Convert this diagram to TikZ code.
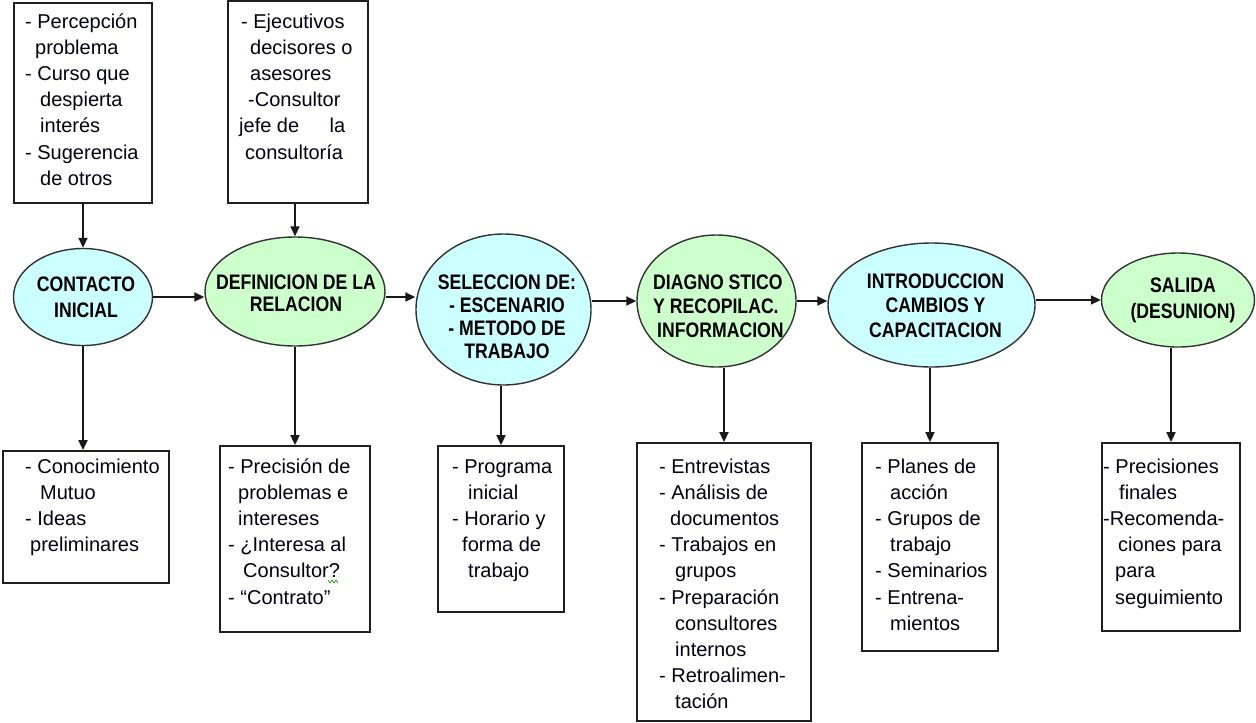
\documentclass[tikz,border=0pt]{standalone}
\usepackage{fontspec}
\setmainfont{Liberation Sans}
\newfontfamily\ellfont[FakeStretch=0.84]{Liberation Sans}
\usetikzlibrary{shapes.geometric,arrows.meta}
\newcommand\ind[1]{\hspace*{#1pt}}
\newcommand\bxt[1]{\parbox[t]{170pt}{\fontsize{20}{26.2}\selectfont #1}}
\newcommand\elt[2]{\parbox[t]{170pt}{\centering\ellfont\bfseries\fontsize{21}{#1}\selectfont #2}}
\newcommand\eltl[2]{\parbox[t]{170pt}{\ellfont\bfseries\fontsize{21}{#1}\selectfont #2}}
\tikzset{
  x=1pt,y=-1pt,
  panel/.style={draw=black!88,line width=1.8pt,rectangle,inner sep=0pt},
  cyanell/.style={ellipse,draw=black!80,line width=1.4pt,fill=cyanfill,inner sep=0pt},
  greenell/.style={ellipse,draw=black!80,line width=1.4pt,fill=greenfill,inner sep=0pt},
  txt/.style={inner sep=0pt,anchor=base west,text=black!92!blue},
  etxt/.style={inner sep=0pt,anchor=base,text=black},
  arr/.style={-{Triangle[length=10pt,width=9pt]},line width=1.8pt,draw=black!90},
}
\definecolor{cyanfill}{HTML}{CCFFFF}
\definecolor{greenfill}{HTML}{CCFFCC}
\begin{document}
\begin{tikzpicture}
\useasboundingbox[fill=white] (0,0) rectangle (1256,723);

% top boxes
\node[panel,minimum width=138pt,minimum height=200pt] (t1) at (83,103) {};
\node[panel,minimum width=140pt,minimum height=202pt] (t2) at (298,102) {};

% ellipses
\node[cyanell,minimum width=139pt,minimum height=97pt] (e1) at (83,297) {};
\node[greenell,minimum width=180pt,minimum height=109pt] (e2) at (295,291.5) {};
\node[cyanell,minimum width=175pt,minimum height=151pt] (e3) at (503.5,309.5) {};
\node[greenell,minimum width=159pt,minimum height=132pt] (e4) at (716.5,301) {};
\node[cyanell,minimum width=207pt,minimum height=124pt] (e5) at (931.5,305) {};
\node[greenell,minimum width=153pt,minimum height=94pt] (e6) at (1178,300) {};

% bottom boxes
\node[panel,minimum width=166pt,minimum height=132pt] (b1) at (86,517) {};
\node[panel,minimum width=150pt,minimum height=186pt] (b2) at (295,539) {};
\node[panel,minimum width=126pt,minimum height=166pt] (b3) at (501,529) {};
\node[panel,minimum width=174pt,minimum height=278pt] (b4) at (724,582) {};
\node[panel,minimum width=136pt,minimum height=208pt] (b5) at (930,547) {};
\node[panel,minimum width=138pt,minimum height=188pt] (b6) at (1171,537) {};

% texts of top boxes
\node[txt] (t1x) at (25,28) {\bxt{- Percepción\\
\ind{10}problema\\
- Curso que\\
\ind{15}despierta\\
\ind{15}interés\\
- Sugerencia\\
\ind{15}de otros}};
\node[txt] (t2x) at (239,28) {\bxt{\ind{2}- Ejecutivos\\
\ind{11}decisores o\\
\ind{11}asesores\\
\ind{9}-Consultor\\
\makebox[106pt][s]{jefe de\hfill la}\\
\ind{6}consultoría}};

% ellipse texts
\node[etxt] (e1x) at (86,291) {\elt{26}{CONTACTO\\INICIAL}};
\node[etxt] (e2x) at (296,289) {\elt{22}{DEFINICION DE LA\\RELACION}};
\node[etxt] (e3x) at (507,289) {\elt{23.3}{SELECCION DE:\\- ESCENARIO\\- METODO DE\\TRABAJO}};
\node[txt,text=black] (e4x) at (653,289) {\eltl{24}{DIAGNO STICO\\Y RECOPILAC.\\\ind{4}INFORMACION}};
\node[etxt] (e5x) at (935.5,288) {\elt{24.5}{INTRODUCCION\\CAMBIOS Y\\CAPACITACION}};
\node[etxt] (e6x) at (1183,292) {\elt{26}{SALIDA\\(DESUNION)}};

% texts of bottom boxes
\node[txt] (b1x) at (25,473) {\bxt{- Conocimiento\\
\ind{15}Mutuo\\
- Ideas\\
\ind{5}preliminares}};
\node[txt] (b2x) at (228,473) {\bxt{- Precisión de\\
\ind{10}problemas e\\
\ind{10}intereses\\
- ¿Interesa al\\
\ind{15}Consultor?\\
- “Contrato”}};
\node[txt] (b3x) at (452,473) {\bxt{- Programa\\
\ind{16}inicial\\
- Horario y\\
\ind{10}forma de\\
\ind{16}trabajo}};
\node[txt] (b4x) at (659,473) {\bxt{- Entrevistas\\
- Análisis de\\
\ind{11}documentos\\
- Trabajos en\\
\ind{16}grupos\\
- Preparación\\
\ind{16}consultores\\
\ind{16}internos\\
- Retroalimen-\\
\ind{16}tación}};
\node[txt] (b5x) at (875,473) {\bxt{- Planes de\\
\ind{15}acción\\
- Grupos de\\
\ind{15}trabajo\\
- Seminarios\\
- Entrena-\\
\ind{15}mientos}};
\node[txt] (b6x) at (1103,473) {\bxt{- Precisiones\\
\ind{16}finales\\
-Recomenda-\\
\ind{15}ciones para\\
\ind{12}para\\
\ind{12}seguimiento}};

% grammar squiggle
\draw[green!55!black,line width=0.6pt] (328,580) -- (330,583) -- (332,580) -- (334,583) -- (336,580) -- (338,583);

% arrows top -> ellipses
\draw[arr] (t1.south) -- (t1.south |- e1.north);
\draw[arr] (e2.north |- t2.south) -- (e2.north);

% arrows between ellipses
\draw[arr] (e1.east) -- (e1.east -| e2.west);
\draw[arr] (e2.east |- e1.east) -- (e3.west |- e1.east);
\draw[arr] (e3.east |- e4.west) -- (e4.west);
\draw[arr] (e4.east) -- (e4.east -| e5.west);
\draw[arr] (e5.east |- e6.west) -- (e6.west);

% arrows ellipses -> bottom boxes
\draw[arr] (e1.south) -- (e1.south |- b1.north);
\draw[arr] (e2.south) -- (e2.south |- b2.north);
\draw[arr] (b3.north |- e3.south) -- (b3.north);
\draw[arr] (b4.north |- e4.south) -- (b4.north);
\draw[arr] (b5.north |- e5.south) -- (b5.north);
\draw[arr] (b6.north |- e6.south) -- (b6.north);
\end{tikzpicture}
\end{document}
